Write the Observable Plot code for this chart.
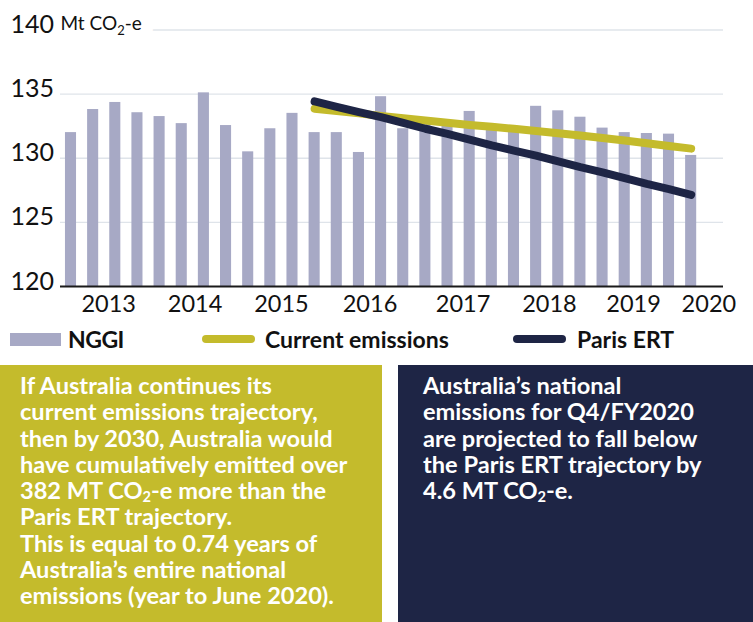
<!DOCTYPE html>
<html>
<head>
<meta charset="utf-8">
<script src="https://cdn.jsdelivr.net/npm/d3@7"></script>
<script src="https://cdn.jsdelivr.net/npm/@observablehq/plot@0.6"></script>
<style>
  html, body { margin: 0; padding: 0; background: #fff; }
  #wrap { position: relative; width: 753px; height: 622px; overflow: hidden; font-family: Lato, "Open Sans", sans-serif; }
  #chart { position: absolute; left: 0; top: 0; }
  .lg { position: absolute; }
  .lgtext { position: absolute; font-weight: 700; font-size: 23px; line-height: 23px; color: #111; white-space: nowrap; }
  .box { position: absolute; top: 365px; height: 257px; color: #fff; font-weight: 700; font-size: 23.6px; line-height: 26.3px; box-sizing: border-box; white-space: nowrap; }
  .box sub { font-size: 0.62em; line-height: 0; vertical-align: -0.22em; }
</style>
</head>
<body>
<div id="wrap">
  <div id="chart"></div>
  <div class="lg" style="left:10px;top:333px;width:51px;height:13px;background:#a7a9c5"></div>
  <div class="lgtext" style="left:68px;top:327.5px;letter-spacing:-0.5px">NGGI</div>
  <div class="lg" style="left:202px;top:334.5px;width:53px;height:8px;border-radius:4px;background:#c4bb2c"></div>
  <div class="lgtext" style="left:265px;top:327.5px">Current emissions</div>
  <div class="lg" style="left:513px;top:334.5px;width:53px;height:8px;border-radius:4px;background:#1e2545"></div>
  <div class="lgtext" style="left:577px;top:327.5px">Paris ERT</div>
  <div class="box" style="left:0;width:382px;background:#c4bb2c;padding:7px 0 0 20px">
    If Australia continues its<br>
    current emissions trajectory,<br>
    then by 2030, Australia would<br>
    have cumulatively emitted over<br>
    382 MT CO<sub>2</sub>-e more than the<br>
    Paris ERT trajectory.<br>
    This is equal to 0.74 years of<br>
    Australia’s entire national<br>
    emissions (year to June 2020).
  </div>
  <div class="box" style="left:398px;width:355px;background:#1e2545;padding:7px 0 0 25px">
    Australia’s national<br>
    emissions for Q4/FY2020<br>
    are projected to fall below<br>
    the Paris ERT trajectory by<br>
    4.6 MT CO<sub>2</sub>-e.
  </div>
</div>
<script>
// Quarters (categories)
const quarters = ["Mar-13","Jun-13","Sep-13","Dec-13","Mar-14","Jun-14","Sep-14","Dec-14",
  "Mar-15","Jun-15","Sep-15","Dec-15","Mar-16","Jun-16","Sep-16","Dec-16",
  "Mar-17","Jun-17","Sep-17","Dec-17","Mar-18","Jun-18","Sep-18","Dec-18",
  "Mar-19","Jun-19","Sep-19","Dec-19","Mar-20"];
// NGGI quarterly emissions (Mt CO2-e)
const nggi = [132.0,133.8,134.35,133.55,133.25,132.7,135.1,132.55,
  130.5,132.3,133.5,132.0,132.0,130.45,134.8,132.3,
  132.7,132.5,133.65,132.4,132.3,134.05,133.7,133.2,
  132.35,132.0,131.93,131.88,130.22];
// Projection quarters (Dec-15 .. Mar-20)
const projQuarters = quarters.slice(11);
const currentEmissions = [133.86,133.68,133.5,133.3,133.12,132.95,132.77,132.6,132.45,
  132.3,132.13,131.95,131.78,131.58,131.39,131.17,130.96,130.75];
const parisERT = [134.43,134.0,133.6,133.2,132.75,132.3,131.9,131.45,131.0,
  130.6,130.2,129.75,129.3,128.9,128.45,128.0,127.6,127.15];
// Tick labels
const yTicks = [120,125,130,135,140];
const yearLabels = ["2013","2014","2015","2016","2017","2018","2019","2020"];
const yearLabelAt = [1.7,5.6,9.5,13.5,17.7,21.6,25.4,28.8]; // in quarter-index units
const unitLabel = ["Mt CO2-e"];

const BAR = "#a7a9c5", YEL = "#c4bb2c", NAVY = "#1e2545";

const bars = quarters.map((q, i) => ({q, i, v: nggi[i]}));
const cur = projQuarters.map((q, k) => ({q, i: quarters.indexOf(q), v: currentEmissions[k]}));
const par = projQuarters.map((q, k) => ({q, i: quarters.indexOf(q), v: parisERT[k]}));
const years = yearLabels.map((t, k) => ({t, x: yearLabelAt[k]}));

const unitOpts = {y: 140, text: d => d, frameAnchor: "left", dx: 0, lineAnchor: "bottom", textAnchor: "start", fontSize: 19};

const plot = Plot.plot({
  width: 753,
  height: 320,
  marginLeft: 60,
  marginRight: 30,
  marginTop: 29.5,
  marginBottom: 34,
  style: {fontFamily: "Lato, 'Open Sans', sans-serif", background: "transparent", overflow: "visible"},
  x: {domain: [-0.474, 29.46], axis: null},
  y: {domain: [120, 140], axis: null},
  marks: [
    Plot.ruleY(yTicks.filter(d => d > 120), {stroke: "#dfe4ea", strokeWidth: 1.3}),
    Plot.rectY(bars, {x1: d => d.i - 0.25, x2: d => d.i + 0.25, y1: 120, y2: "v", fill: BAR}),
    Plot.ruleY([120], {stroke: "#1a1a1a", strokeWidth: 2}),
    Plot.line(cur, {x: "i", y: "v", stroke: YEL, strokeWidth: 8, strokeLinecap: "round", strokeLinejoin: "round"}),
    Plot.line(par, {x: "i", y: "v", stroke: NAVY, strokeWidth: 8, strokeLinecap: "round", strokeLinejoin: "round"}),
    Plot.text(unitLabel, {...unitOpts, fill: "white", stroke: "white", strokeWidth: 24, className: "unit-halo"}),
    Plot.text(yTicks, {y: d => d, text: d => String(d), frameAnchor: "left", dx: -50, dy: 3, lineAnchor: "bottom", textAnchor: "start", fontSize: 25, fill: "#111"}),
    Plot.text(unitLabel, {...unitOpts, fill: "#111", className: "unit"}),
    Plot.text(years, {x: "x", y: 120, text: "t", dy: 25, lineAnchor: "bottom", textAnchor: "middle", fontSize: 23.5, fill: "#111"})
  ]
});
document.getElementById("chart").appendChild(plot);
// subscript 2 in the unit label
d3.select(plot).selectAll(".unit text, .unit-halo text").each(function() {
  const t = d3.select(this);
  t.text(null);
  t.append("tspan").text("Mt CO");
  t.append("tspan").attr("font-size", 13).attr("dy", 5).text("2");
  t.append("tspan").attr("dy", -5).text("-e");
});
</script>
</body>
</html>
